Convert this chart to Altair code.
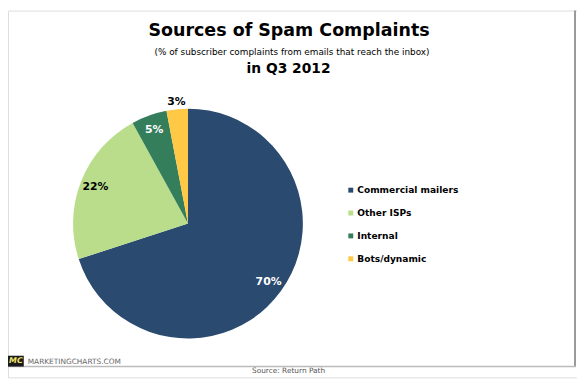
import math
import altair as alt
import pandas as pd

categories = ["Commercial mailers", "Other ISPs", "Internal", "Bots/dynamic"]
values = [70, 22, 5, 3]
labels = ["70%", "22%", "5%", "3%"]
order_idx = [1, 2, 3, 4]

title = "Sources of Spam Complaints"
subtitle = "(% of subscriber complaints from emails that reach the inbox)"
title2 = "in Q3 2012"
brand = "MARKETINGCHARTS.COM"
source = "Source: Return Path"

palette = ["#2A4A6F", "#B9DD8B", "#357E5C", "#FFC845"]
FONT = "DejaVu Sans"

df = pd.DataFrame({"cat": categories, "value": values, "label": labels, "idx": order_idx})

CX, CY, R = 182.5, 216, 116.5
theta_scale = alt.Scale(domain=[0, 100], range=[0, 2 * math.pi])

base = (
    alt.Chart(df)
    .transform_window(cum="sum(value)", sort=[{"field": "idx"}], frame=[None, 0])
    .transform_calculate(start="datum.cum - datum.value", mid="datum.cum - datum.value / 2")
)

arcs = base.mark_arc(radius=R, stroke=None).encode(
    theta=alt.Theta("start:Q", scale=theta_scale),
    theta2="cum:Q",
    x=alt.value(CX),
    y=alt.value(CY),
    color=alt.Color(
        "cat:N",
        scale=alt.Scale(domain=categories, range=palette),
        sort=categories,
        legend=alt.Legend(
            title=None,
            orient="none",
            legendX=343,
            legendY=177.5,
            symbolType="square",
            symbolSize=25,
            symbolStrokeWidth=0,
            labelFont=FONT,
            labelFontSize=9.2,
            labelFontWeight="bold",
            labelColor="#000000",
            labelOffset=2,
            rowPadding=13.2,
            padding=0,
        ),
    ),
)

txt_color = alt.condition(
    "datum.cat === 'Commercial mailers' || datum.cat === 'Internal'",
    alt.value("white"),
    alt.value("black"),
)

inner = base.transform_filter("datum.value >= 5").mark_text(
    radius=101, font=FONT, fontSize=11, fontWeight="bold"
).encode(
    theta=alt.Theta("mid:Q", scale=theta_scale),
    x=alt.value(CX),
    y=alt.value(CY),
    text="label:N",
    color=txt_color,
)

outer = base.transform_filter("datum.value < 5").mark_text(
    radius=124, font=FONT, fontSize=11, fontWeight="bold"
).encode(
    theta=alt.Theta("mid:Q", scale=theta_scale),
    x=alt.value(CX),
    y=alt.value(CY),
    text="label:N",
    color=txt_color,
)


def label(t, x, y, size, weight="normal", color="#000000", align="center", style="normal"):
    return alt.Chart(pd.DataFrame({"t": [t]})).mark_text(
        font=FONT, fontSize=size, fontWeight=weight, color=color, align=align,
        baseline="middle", fontStyle=style,
    ).encode(text="t:N", x=alt.value(x), y=alt.value(y))


t1 = label(title, 285, 21, 17.7, "bold")
t2 = label(subtitle, 288, 42, 9)
t3 = label(title2, 284.5, 59, 14, "bold")

frame_r = alt.Chart(pd.DataFrame({"a": [0]})).mark_rule(color="#999999", strokeWidth=2).encode(
    x=alt.value(575), y=alt.value(0), y2=alt.value(361)
)
frame_b = alt.Chart(pd.DataFrame({"a": [0]})).mark_rule(color="#BBBBBB", strokeWidth=1.5).encode(
    x=alt.value(0), x2=alt.value(576), y=alt.value(361)
)
logo_box = alt.Chart(pd.DataFrame({"a": [0]})).mark_rect(color="#1A1A1A").encode(
    x=alt.value(0), x2=alt.value(16), y=alt.value(350), y2=alt.value(361)
)
logo_t = label("MC", 8, 355.5, 8, "bold", "#F2E36B", "center", "italic")
brand_t = label(brand, 20, 356, 7.5, "normal", "#666666", "left")
source_t = label(source, 284.5, 366, 7.5, "normal", "#555555")

chart = (
    alt.layer(arcs, inner, outer, t1, t2, t3, frame_r, frame_b, logo_box, logo_t, brand_t, source_t)
    .properties(width=577, height=372, autosize=alt.AutoSizeParams(type="none"), padding=0)
    .configure_view(stroke=None)
    .configure(background="white")
)

chart.save("out.html", embed_options={"renderer": "svg", "actions": False})
